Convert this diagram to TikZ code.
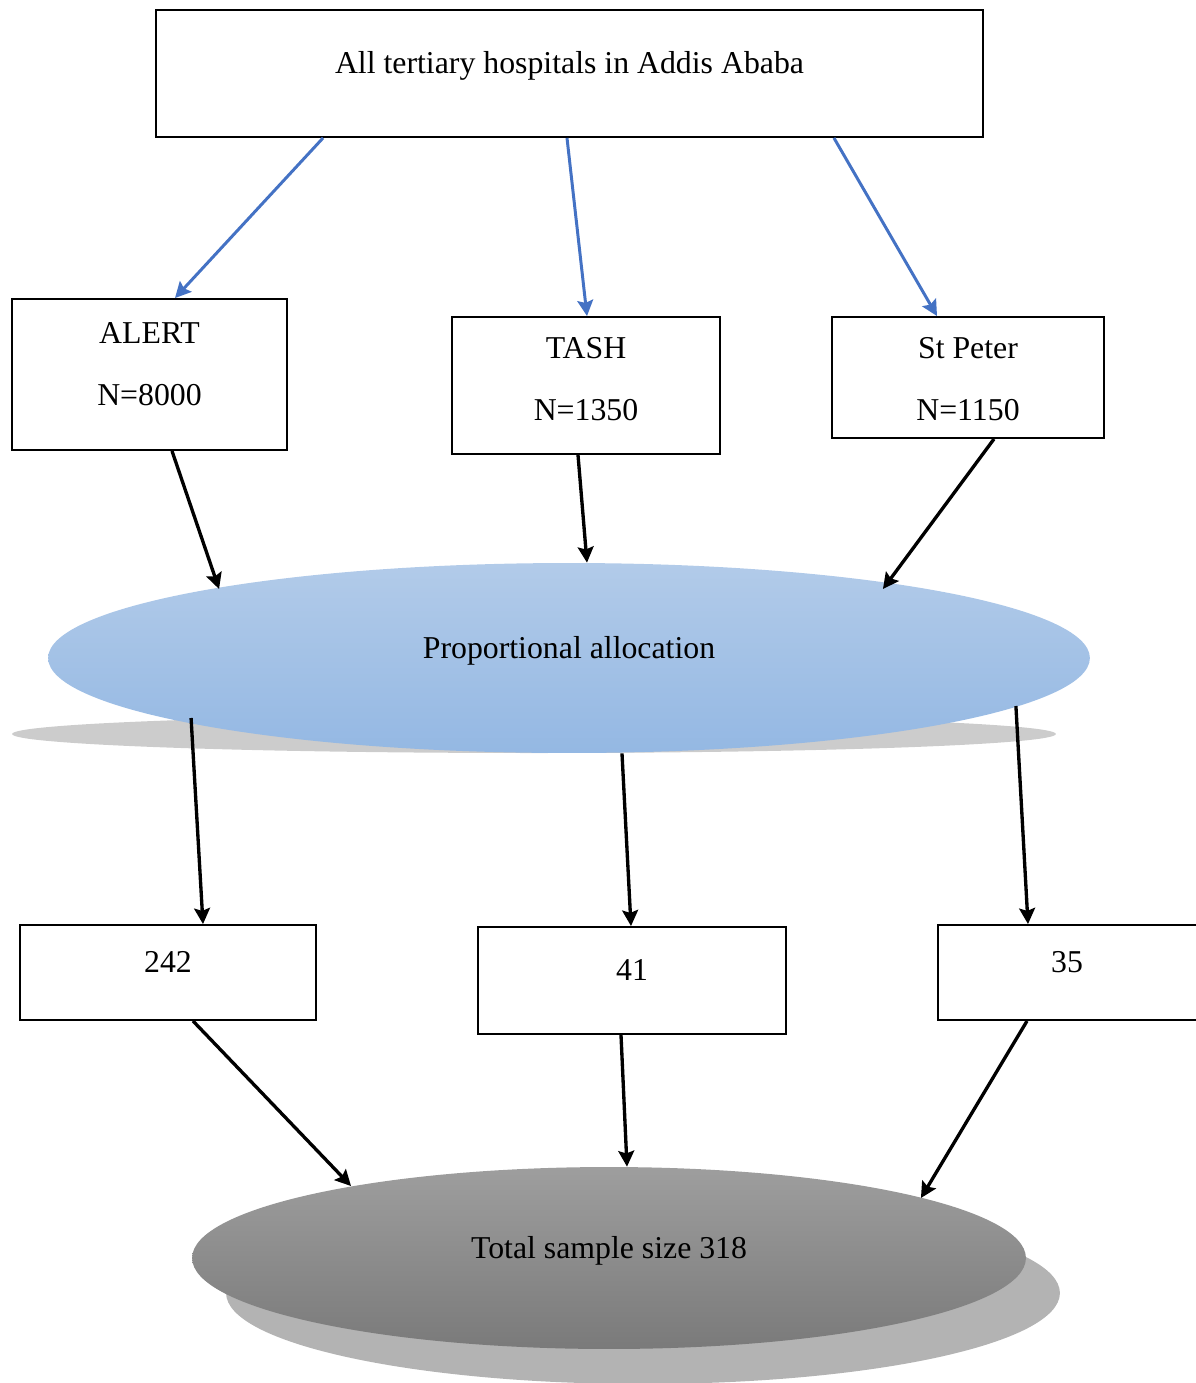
\documentclass[tikz,border=0pt]{standalone}
\usepackage{fontspec}
\setmainfont{Liberation Serif}
\usetikzlibrary{shapes.geometric,arrows.meta}

\definecolor{linkblue}{RGB}{68,114,196}
\definecolor{proptop}{RGB}{178,203,233}
\definecolor{propbottom}{RGB}{148,184,227}
\definecolor{totaltop}{RGB}{158,158,158}
\definecolor{totalbottom}{RGB}{122,122,122}
\definecolor{propshadow}{RGB}{204,204,204}
\definecolor{totalshadow}{RGB}{179,179,179}

\tikzset{
	hbox/.style={draw, line width=1.1pt, inner sep=0pt, text height=0pt, text depth=0pt},
	twoline/.style={hbox, align=center, text height=#1, text depth=0pt},
	twoline/.default=35.3pt,
	oval/.style={ellipse, inner sep=0pt, text height=0pt, text depth=0pt},
	bluearrow/.style={draw=linkblue, line width=1.7pt, -{Stealth[length=9pt, width=9pt, inset=1.5pt]}},
	blackarrow/.style={draw=black, line width=1.9pt, -{Stealth[length=9pt, width=9pt, inset=1.5pt]}}
}

\begin{document}
\begin{tikzpicture}[x=0.02cm, y=-0.02cm, font=\fontsize{18.1}{35.3}\selectfont]
	\useasboundingbox (0,0) rectangle (1196,1383);

	%shadows under the two ellipses
	\fill[propshadow] (534,734) ellipse [x radius=10.44cm, y radius=0.38cm];
	\fill[totalshadow] (643,1293) ellipse [x radius=8.34cm, y radius=1.82cm];

	%top box
	\node[hbox, minimum width=16.54cm, minimum height=2.54cm] (all) at (569.5,73.5) {All tertiary hospitals in Addis Ababa};

	%the three hospitals
	\node[twoline, minimum width=5.5cm, minimum height=3.02cm] (alert) at (149.5,374.5) {ALERT\\N=8000};
	\node[twoline=39.9pt, minimum width=5.36cm, minimum height=2.74cm] (tash) at (586,385.5) {TASH\\N=1350};
	\node[twoline=48.4pt, minimum width=5.44cm, minimum height=2.42cm] (peter) at (968,377.5) {St Peter\\N=1150};

	%allocation
	\node[oval, minimum width=20.84cm, minimum height=3.8cm, top color=proptop, bottom color=propbottom] (prop) at (569,658) {Proportional allocation};

	%sample per hospital
	\node[hbox, minimum width=5.92cm, minimum height=1.9cm] (salert) at (168,972.5) {242};
	\node[hbox, minimum width=6.16cm, minimum height=2.14cm] (stash) at (632,980.5) {41};
	\node[hbox, minimum width=5.32cm, minimum height=1.9cm] (speter) at (1071,972.5) {35\kern0.16cm};

	%total
	\node[oval, minimum width=16.68cm, minimum height=3.64cm, top color=totaltop, bottom color=totalbottom] (total) at (609,1258) {Total sample size 318};

	%arrows
	\draw[bluearrow] ([xshift=-4.93cm]all.south) -- ([xshift=0.51cm]alert.north);
	\draw[bluearrow] ([xshift=-0.05cm]all.south) -- ([xshift=0.02cm]tash.north);
	\draw[bluearrow] ([xshift=5.29cm]all.south) -- ([xshift=-0.62cm]peter.north);

	\draw[blackarrow] ([xshift=0.45cm]alert.south) -- ([xshift=-7cm, yshift=1.38cm]prop.center);
	\draw[blackarrow] ([xshift=-0.16cm]tash.south) -- ([xshift=0.36cm]prop.north);
	\draw[blackarrow] ([xshift=0.52cm]peter.south) -- ([xshift=6.28cm, yshift=1.38cm]prop.center);

	\draw[blackarrow] ([xshift=-7.56cm, yshift=-1.2cm]prop.center) -- ([xshift=0.7cm]salert.north);
	\draw[blackarrow] ([xshift=1.06cm]prop.south) -- ([xshift=-0.02cm]stash.north);
	\draw[blackarrow] ([xshift=8.94cm, yshift=-0.96cm]prop.center) -- ([xshift=-0.86cm]speter.north);

	\draw[blackarrow] ([xshift=0.5cm]salert.south) -- ([xshift=-5.16cm, yshift=1.44cm]total.center);
	\draw[blackarrow] ([xshift=-0.22cm]stash.south) -- ([xshift=0.36cm]total.north);
	\draw[blackarrow] ([xshift=-0.88cm]speter.south) -- ([xshift=6.24cm, yshift=1.2cm]total.center);
\end{tikzpicture}
\end{document}
